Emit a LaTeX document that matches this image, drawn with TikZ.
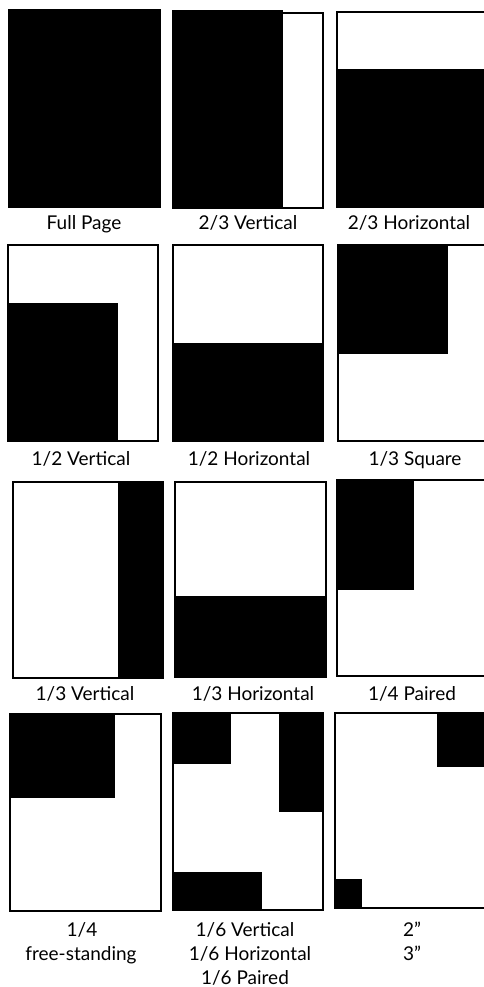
\documentclass[tikz,border=0pt]{standalone}
\usepackage{fontspec}
\setmainfont{Lato}
\begin{document}
\begin{tikzpicture}[x=1pt,y=-1pt,
  pageframe/.style={draw=black, line width=2pt},
  adblock/.style={fill=black},
  lbl/.style={font=\fontsize{19}{25}\selectfont, anchor=base, inner sep=0pt, align=center}]
\useasboundingbox (0,0) rectangle (484,987);
\clip (0,0) rectangle (484,987);
% Row 1
\fill[adblock] (8,9) rectangle (161,208);
\fill[adblock] (172,10) rectangle (283,209);
\draw[pageframe] (173,13) rectangle (323,208);
\fill[adblock] (337,69) rectangle (500,208);
\draw[pageframe] (337,12) rectangle (500,207);
\node[lbl] (l1) at (84,229) {Full Page};
\node[lbl] (l2) at (248,229) {2/3 Vertical};
\node[lbl] (l3) at (409,229) {2/3 Horizontal};
% Row 2
\fill[adblock] (7,303) rectangle (118,440);
\draw[pageframe] (8,245) rectangle (158,441);
\fill[adblock] (172,343) rectangle (324,442);
\draw[pageframe] (173,245) rectangle (323,441);
\fill[adblock] (337,244) rectangle (448,354);
\draw[pageframe] (338,245) rectangle (500,441);
\node[lbl] (l4) at (81,465) {1/2 Vertical};
\node[lbl] (l5) at (249,465) {1/2 Horizontal};
\node[lbl] (l6) at (415,465) {1/3 Square};
% Row 3
\fill[adblock] (118,481) rectangle (164,679);
\draw[pageframe] (13,482) rectangle (163,678);
\fill[adblock] (174,596) rectangle (327,678);
\draw[pageframe] (175,482) rectangle (326,677);
\fill[adblock] (336,479) rectangle (414,590);
\draw[pageframe] (337,480) rectangle (500,676);
\node[lbl] (l7) at (85,700) {1/3 Vertical};
\node[lbl] (l8) at (253,700) {1/3 Horizontal};
\node[lbl] (l9) at (412,700) {1/4 Paired};
% Row 4
\fill[adblock] (9,713) rectangle (115,798);
\draw[pageframe] (10,714) rectangle (161,911);
\fill[adblock] (172,712) rectangle (231,764);
\fill[adblock] (279,712) rectangle (324,812);
\fill[adblock] (172,872) rectangle (262,911);
\draw[pageframe] (173,713) rectangle (323,910);
\fill[adblock] (437,712) rectangle (500,767);
\fill[adblock] (334,879) rectangle (362,909);
\draw[pageframe] (335,713) rectangle (500,908);
\node[lbl] (l10a) at (82,936) {1/4};
\node[lbl] (l10b) at (81,960) {free-standing};
\node[lbl] (l11a) at (245,936) {1/6 Vertical};
\node[lbl] (l11b) at (250,960) {1/6 Horizontal};
\node[lbl] (l11c) at (245,984) {1/6 Paired};
\node[lbl] (l12a) at (412,936) {2”};
\node[lbl] (l12b) at (412,960) {3”};
\end{tikzpicture}
\end{document}
